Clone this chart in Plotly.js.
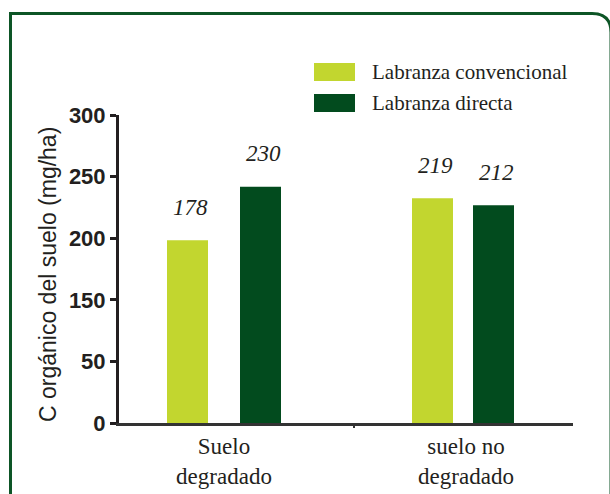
<!DOCTYPE html>
<html><head><meta charset="utf-8">
<script src="https://cdn.plot.ly/plotly-3.0.1.min.js"></script>
<style>html,body{margin:0;padding:0;background:#fff}#chart{width:610px;height:494px}</style>
</head><body><div id="chart"></div>
<script>
// ---- data ----
const categories = ['Suelo<br>degradado', 'suelo no<br>degradado'];
const seriesNames = ['Labranza convencional', 'Labranza directa'];
const convencional = [178, 219];
const directa = [230, 212];
const yTickLabels = ['0', '50', '150', '200', '250', '300'];
const yTitle = 'C orgánico del suelo (mg/ha)';

// ---- layout geometry (pixels) ----
const W = 610, H = 494, L = 119, R = 573, T = 115, B = 423;
const pxPerCat = 242;
const px = x => (x - L) / (R - L);
const py = y => (B - y) / (B - T);
const colors = ['#c2d62f', '#024b1e'];
const barW = 41 / pxPerCat;
const offsets = [[-57 / pxPerCat, -54 / pxPerCat], [16 / pxPerCat, 7 / pxPerCat]];

const traces = [convencional, directa].map((vals, i) => ({
  type: 'bar', x: categories, y: vals, name: seriesNames[i],
  marker: {color: colors[i], line: {width: 0}},
  width: barW, offset: offsets[i], showlegend: false, hoverinfo: 'skip'
}));

const annotations = [];
[convencional, directa].forEach((vals, i) => {
  vals.forEach((v, j) => {
    annotations.push({
      x: j + offsets[i][j] + barW / 2, y: v, xref: 'x', yref: 'y',
      text: String(v), showarrow: false, xanchor: 'center', yanchor: 'middle',
      xshift: 3, yshift: 33,
      font: {family: 'Liberation Serif', size: 23, color: '#231f20', style: 'italic'}
    });
  });
});
// legend texts
seriesNames.forEach((n, i) => {
  annotations.push({
    x: px(370), y: py(i === 0 ? 72 : 103), xref: 'paper', yref: 'paper',
    text: n, showarrow: false, xanchor: 'left', yanchor: 'middle',
    font: {family: 'Liberation Serif', size: 21, color: '#231f20'}
  });
});
// y axis title
annotations.push({
  x: px(48), y: py(275), xref: 'paper', yref: 'paper', text: yTitle, textangle: -90,
  showarrow: false, xanchor: 'center', yanchor: 'middle',
  font: {family: 'Liberation Sans, Arial', size: 23, color: '#231f20'}
});

const shapes = [
  // legend swatches
  {type: 'rect', xref: 'paper', yref: 'paper', x0: px(314), x1: px(355), y0: py(63), y1: py(81), fillcolor: colors[0], line: {width: 0}},
  {type: 'rect', xref: 'paper', yref: 'paper', x0: px(314), x1: px(355), y0: py(94), y1: py(112), fillcolor: colors[1], line: {width: 0}},
  // category boundary tick
  {type: 'line', xref: 'x', yref: 'paper', x0: (354 - 224) / pxPerCat, x1: (354 - 224) / pxPerCat, y0: py(423), y1: py(428), line: {color: '#333', width: 2}},
  // frame
  {type: 'path', xref: 'paper', yref: 'paper',
   path: `M ${px(10.5)},${py(494)} L ${px(10.5)},${py(13.5)} L ${px(592)},${py(13.5)} Q ${px(611)},${py(13.5)} ${px(611)},${py(32.5)} L ${px(611)},${py(494)}`,
   line: {color: '#0d5526', width: 3}}
];

const layout = {
  width: W, height: H,
  margin: {l: L, r: W - R, t: T, b: H - B, pad: 0},
  paper_bgcolor: '#fff', plot_bgcolor: '#fff',
  showlegend: false, barmode: 'group',
  xaxis: {
    type: 'category', range: [(L - 224) / pxPerCat, (R - 224) / pxPerCat],
    showline: true, linecolor: '#333', linewidth: 3, ticks: '', showgrid: false, zeroline: false,
    tickfont: {family: 'Liberation Serif', size: 23, color: '#231f20'}, automargin: false
  },
  yaxis: {
    range: [0, 300], tickmode: 'array',
    tickvals: yTickLabels.map((_, i) => i * 60), ticktext: yTickLabels,
    showline: true, linecolor: '#231f20', linewidth: 3, ticks: 'outside', ticklen: 6, tickwidth: 3, tickcolor: '#231f20',
    showgrid: false, zeroline: false,
    tickfont: {family: 'Liberation Sans, Arial', size: 22, color: '#231f20', weight: 'bold'},
    automargin: false
  },
  annotations: annotations, shapes: shapes
};

Plotly.newPlot('chart', traces, layout, {staticPlot: true, displayModeBar: false});
</script></body></html>
